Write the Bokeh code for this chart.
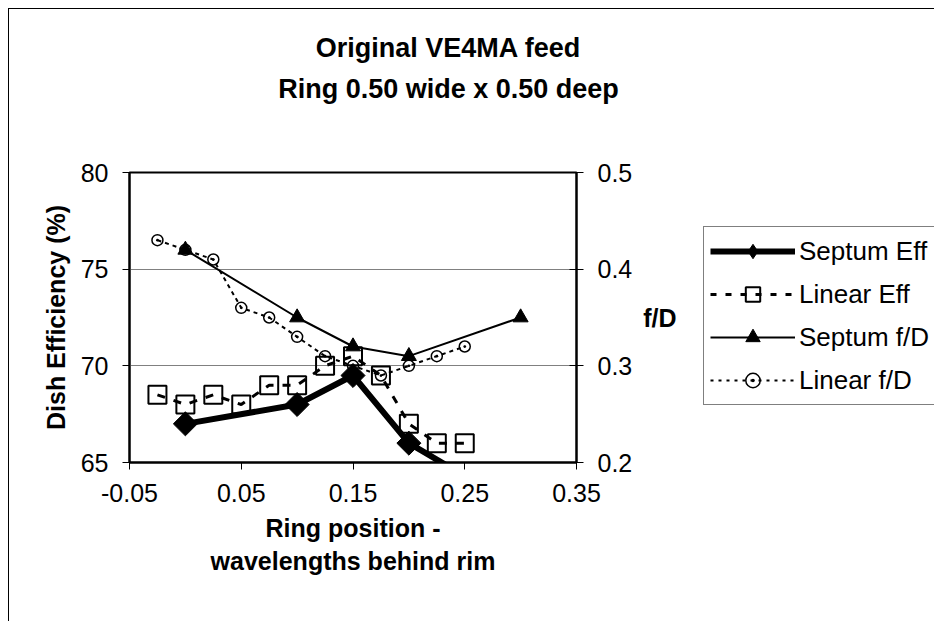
from bokeh.plotting import figure
from bokeh.models import (Range1d, LinearAxis, FixedTicker, PrintfTickFormatter,
                          Legend, LegendItem, Label)
from bokeh.layouts import row, column
from bokeh.embed import file_html
from bokeh.resources import INLINE
import numpy as np

# ---- data ----
x_septum_eff = [0.0, 0.1, 0.15, 0.2, 0.25]
septum_eff = [67.0, 68.0, 69.5, 66.0, 64.3]

x_linear_eff = [-0.025, 0.0, 0.025, 0.05, 0.075, 0.1, 0.125, 0.15, 0.175, 0.2, 0.225, 0.25]
linear_eff = [68.5, 68.0, 68.5, 68.0, 69.0, 69.0, 70.0, 70.5, 69.5, 67.0, 66.0, 66.0]

x_septum_fd = [0.0, 0.1, 0.15, 0.2, 0.3]
septum_fd = [0.42, 0.35, 0.32, 0.31, 0.35]

x_linear_fd = [-0.025, 0.0, 0.025, 0.05, 0.075, 0.1, 0.125, 0.15, 0.175, 0.2, 0.225, 0.25]
linear_fd = [0.43, 0.42, 0.41, 0.36, 0.35, 0.33, 0.31, 0.30, 0.29, 0.30, 0.31, 0.32]

x_ticks = [-0.05, 0.05, 0.15, 0.25, 0.35]
eff_ticks = [65, 70, 75, 80]
fd_ticks = [0.2, 0.3, 0.4, 0.5]

title_lines = ["Original VE4MA feed", "Ring 0.50 wide x 0.50 deep"]
series_names = ["Septum Eff", "Linear Eff", "Septum f/D", "Linear f/D"]

FONT = "Liberation Sans"
FS = "25px"
LINE = "linear-gradient(#000,#000)"

# ---------------- title strip ----------------
tf = figure(width=934, height=130, output_backend="svg", toolbar_location=None,
            x_range=Range1d(0, 934), y_range=Range1d(130, 0),
            x_axis_type=None, y_axis_type=None, min_border=0)
tf.grid.visible = False
tf.outline_line_color = None
tf.background_fill_color = None
tf.border_fill_color = None
tf.styles = {"background": f"{LINE} 8px 8px / 1px 100% no-repeat, "
                           f"{LINE} 8px 8px / 100% 1px no-repeat, #ffffff"}
for txt, yy in zip(title_lines, [47, 88]):
    tf.add_layout(Label(x=448, y=yy, text=txt, text_align="center",
                        text_baseline="middle", text_font=FONT,
                        text_font_size="27px", text_font_style="bold",
                        text_color="black"))

# ---------------- main chart ----------------
p = figure(width=702, height=491, output_backend="svg", toolbar_location=None,
           x_range=Range1d(-0.05, 0.35), y_range=Range1d(65, 80),
           min_border_left=129, min_border_right=126,
           min_border_top=42, min_border_bottom=159)
p.extra_y_ranges = {"fd": Range1d(0.2, 0.5)}
p.background_fill_color = "white"
p.border_fill_color = None
p.outline_line_color = "black"
p.outline_line_width = 2
p.styles = {"background": f"{LINE} 8px 0px / 1px 100% no-repeat, #ffffff"}

p.xgrid.visible = False
p.ygrid.ticker = FixedTicker(ticks=eff_ticks)
p.ygrid.grid_line_color = "#808080"
p.ygrid.grid_line_width = 1

def style_axis(ax):
    ax.axis_line_color = "black"
    ax.axis_line_width = 2
    ax.major_tick_line_color = "black"
    ax.major_tick_line_width = 1
    ax.major_tick_out = 7
    ax.major_tick_in = 0
    ax.minor_tick_line_color = None
    ax.major_label_text_font = FONT
    ax.major_label_text_font_size = FS
    ax.major_label_text_color = "black"
    ax.major_label_standoff = 14
    ax.axis_label_text_font = FONT
    ax.axis_label_text_font_size = FS
    ax.axis_label_text_font_style = "bold"
    ax.axis_label_text_color = "black"

xa = p.xaxis[0]
style_axis(xa)
xa.ticker = FixedTicker(ticks=x_ticks)
xa.formatter = PrintfTickFormatter(format="%.2f")
xa.axis_label = "Ring position -\nwavelengths behind rim"
xa.axis_label_standoff = 9

ya = p.yaxis[0]
style_axis(ya)
ya.ticker = FixedTicker(ticks=eff_ticks)
ya.axis_label = "Dish Efficiency (%)"
ya.axis_label_standoff = 8

ra = LinearAxis(y_range_name="fd", axis_label="f/D",
                axis_label_orientation="horizontal")
style_axis(ra)
ra.ticker = FixedTicker(ticks=fd_ticks)
ra.formatter = PrintfTickFormatter(format="%.1f")
ra.major_tick_in = 7
ra.axis_label_standoff = 8
p.add_layout(ra, "right")

# series
p.line(x_septum_eff, septum_eff, line_color="black", line_width=6, line_join="round")
p.scatter(x_septum_eff, septum_eff, marker="square", angle=np.pi / 4, size=17,
          fill_color="black", line_color="black")

p.line(x_linear_eff, linear_eff, line_color="black", line_width=3, line_dash="8 9")
p.scatter(x_linear_eff, linear_eff, marker="square", size=18,
          fill_color=None, line_color="black", line_width=2)

p.line(x_septum_fd, septum_fd, y_range_name="fd", line_color="black", line_width=2)
p.scatter(x_septum_fd, septum_fd, y_range_name="fd", marker="triangle", size=15,
          fill_color="black", line_color="black")

p.line(x_linear_fd, linear_fd, y_range_name="fd", line_color="black", line_width=2,
       line_dash="4 4")
p.scatter(x_linear_fd, linear_fd, y_range_name="fd", marker="circle_dot", size=11,
          fill_color=None, line_color="black", line_width=1.5)

# ---------------- legend panel ----------------
lf = figure(width=232, height=491, output_backend="svg", toolbar_location=None,
            x_range=Range1d(0, 1), y_range=Range1d(0, 1),
            x_axis_type=None, y_axis_type=None, min_border=0)
lf.grid.visible = False
lf.outline_line_color = None
lf.background_fill_color = None
lf.border_fill_color = None
lf.styles = {"background": "#ffffff"}

# legend swatches: one undrawn (NaN) row each, only so the legend has a glyph to show
NA = np.array([np.nan])
l1 = lf.line(NA, NA, line_color="black", line_width=6)
m1 = lf.scatter(NA, NA, marker="diamond", fill_color="black", line_color="black")
l2 = lf.line(NA, NA, line_color="black", line_width=3, line_dash="6 9")
m2 = lf.scatter(NA, NA, marker="square", fill_color=None, line_color="black", line_width=2)
l3 = lf.line(NA, NA, line_color="black", line_width=2)
m3 = lf.scatter(NA, NA, marker="triangle", fill_color="black", line_color="black")
l4 = lf.line(NA, NA, line_color="black", line_width=2, line_dash="3 5")
m4 = lf.scatter(NA, NA, marker="circle_dot", fill_color=None, line_color="black",
                line_width=1.5)

legend = Legend(items=[
    LegendItem(label=series_names[0], renderers=[l1, m1]),
    LegendItem(label=series_names[1], renderers=[l2, m2]),
    LegendItem(label=series_names[2], renderers=[l3, m3]),
    LegendItem(label=series_names[3], renderers=[l4, m4]),
], location=(1, 57))
legend.label_text_font = FONT
legend.label_text_font_size = "26px"
legend.label_text_color = "black"
legend.glyph_width = 85
legend.glyph_height = 36
legend.label_height = 36
legend.label_standoff = 4
legend.spacing = 7
legend.padding = 6
legend.margin = 0
legend.border_line_color = "black"
legend.border_line_width = 1
legend.background_fill_color = "white"
legend.background_fill_alpha = 1
lf.add_layout(legend, "center")

layout = column(tf, row(p, lf, spacing=0), spacing=0)
open("out.html", "w").write(file_html(layout, INLINE))
